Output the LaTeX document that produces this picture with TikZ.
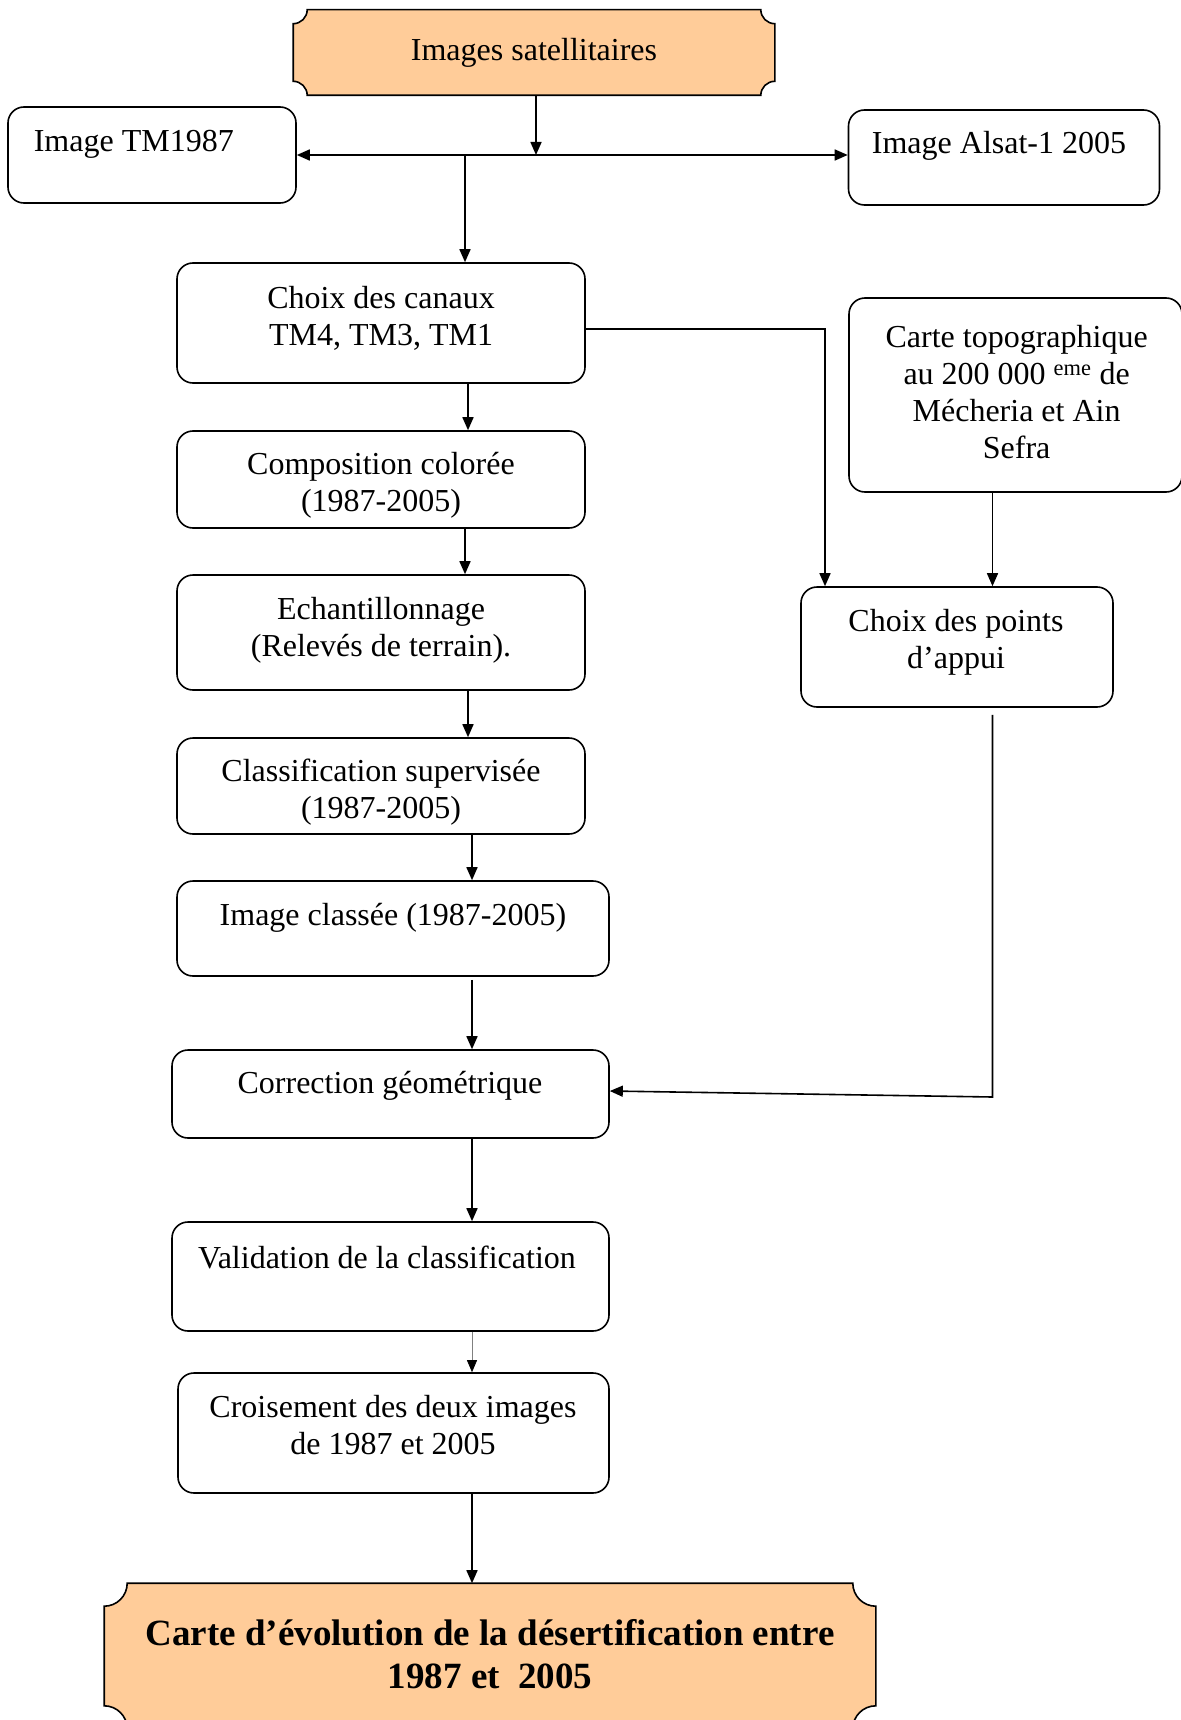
\documentclass[tikz,border=0pt]{standalone}
\usepackage{fontspec}
\setmainfont{Liberation Serif}
\usepackage{xcolor}
\usepackage{tikz}
\usetikzlibrary{arrows.meta, positioning, calc}

\definecolor{orangeclair}{RGB}{255,204,153}

% plaque aux coins creux : #1 = noeud, #2 = rayon
\newcommand{\plaque}[2]{%
  \draw[fill=orangeclair] ($(#1.north west)+(#2,0)$) -- ($(#1.north east)+(-#2,0)$)
    arc[start angle=180, end angle=270, radius=#2] -- ($(#1.south east)+(0,#2)$)
    arc[start angle=90, end angle=180, radius=#2] -- ($(#1.south west)+(#2,0)$)
    arc[start angle=0, end angle=90, radius=#2] -- ($(#1.north west)+(0,-#2)$)
    arc[start angle=270, end angle=360, radius=#2] -- cycle;}

\begin{document}
\begin{tikzpicture}[x=1pt, y=-1pt, line width=1.6pt,
            >={Triangle[length=13pt, width=11pt]},
            boite/.style={draw, rounded corners=16pt, inner sep=0pt},
            vide/.style={inner sep=0pt},
            txt/.style={align=center, inner sep=0pt, font=\fontsize{32}{37}\selectfont},
            titre/.style={align=center, inner sep=0pt, font=\fontsize{37}{43}\selectfont\bfseries}]

            \useasboundingbox (0,0) rectangle (1180,1720);

            % ===== plaques orange =====
            \node[vide, minimum width=480pt, minimum height=84pt] (sat) at (534,52.5) {};
            \plaque{sat}{14pt}
            \node[txt] (sat-t) at (534,52.5) {Images satellitaires};

            \node[vide, minimum width=770pt, minimum height=144pt] (final) at (490,1656) {};
            \plaque{final}{23pt}
            \node[titre] (final-t) at (490,1654) {Carte d’évolution de la désertification entre\\1987 et~ 2005};

            % ===== boites =====
            \node[boite, minimum width=288pt, minimum height=96pt] (tm) at (152,155) {};
            \node[txt, anchor=west] (tm-t) at (33,144) {Image TM1987};
            \node[boite, minimum width=311pt, minimum height=95pt] (alsat) at (1004,157.5) {};
            \node[txt] (alsat-t) at (999,146) {Image Alsat-1 2005};

            \node[boite, minimum width=408pt, minimum height=120pt] (canaux) at (381,323) {};
            \node[txt] (canaux-t) at (381,318) {Choix des canaux\\TM4, TM3, TM1};
            \node[boite, minimum width=408pt, minimum height=97pt] (compo) at (381,479.5) {};
            \node[txt] (compo-t) at (381,485.5) {Composition colorée\\(1987-2005)};
            \node[boite, minimum width=408pt, minimum height=115pt] (echant) at (381,632.5) {};
            \node[txt] (echant-t) at (381,630.5) {Echantillonnage\\(Relevés de terrain).};
            \node[boite, minimum width=408pt, minimum height=96pt] (classif) at (381,786) {};
            \node[txt] (classif-t) at (381,792.5) {Classification supervisée\\(1987-2005)};
            \node[boite, minimum width=432pt, minimum height=95pt] (classee) at (393,928.5) {};
            \node[txt] (classee-t) at (393,918) {Image classée (1987-2005)};
            \node[boite, minimum width=437pt, minimum height=88pt] (corr) at (390.5,1094) {};
            \node[txt] (corr-t) at (390,1086) {Correction géométrique};
            \node[boite, minimum width=437pt, minimum height=109pt] (valid) at (390.5,1276.5) {};
            \node[txt] (valid-t) at (387,1257.5) {Validation de la classification};
            \node[boite, minimum width=431pt, minimum height=120pt] (crois) at (393.5,1433) {};
            \node[txt] (crois-t) at (393,1425) {Croisement des deux images\\de 1987 et 2005};

            \node[boite, minimum width=333pt, minimum height=194pt] (topo) at (1015.5,395) {};
            \node[txt] (topo-t) at (1016.6,392) {Carte topographique\\au 200 000 \textsuperscript{eme} de\\Mécheria et Ain\\Sefra};
            \node[boite, minimum width=312pt, minimum height=120pt] (pts) at (957,647) {};
            \node[txt] (pts-t) at (956,642.5) {Choix des points\\d’appui};

            % ===== reperes =====
            \coordinate (depart) at (465,155);
            \coordinate (axe) at (468,0);
            \coordinate (axe2) at (472,0);
            \coordinate (c1) at (825,329);
            \coordinate (c2) at (992.5,1097);

            % ===== fleches =====
            \draw[->] (sat.south -| 536,0) -- (536,155);
            \draw[<->] (tm.east) -- (tm.east -| alsat.west);
            \draw[->] (depart) -- (depart |- canaux.north);
            \draw[->] (canaux.south -| axe) -- (compo.north -| axe);
            \draw[->] (compo.south -| depart) -- (echant.north -| depart);
            \draw[->] (echant.south -| axe) -- (classif.north -| axe);
            \draw[->] (classif.south -| axe2) -- (classee.north -| axe2);
            \draw[->] ([yshift=-3pt]classee.south -| axe2) -- (corr.north -| axe2);
            \draw[->] (corr.south -| axe2) -- (valid.north -| axe2);
            \draw[-{Triangle[length=12pt, width=10pt, color=black]}, gray, line width=0.8pt]
                (valid.south -| axe2) -- (crois.north -| axe2);
            \draw[->] (crois.south -| axe2) -- (final.north -| axe2);

            \draw[->] (canaux.east |- c1) -| (pts.north -| c1);
            \draw[->] (topo.south -| c2) -- (pts.north -| c2);
            \draw[->] ($(pts.south -| c2)+(0,7)$) -- (c2) -- ([yshift=3pt]corr.east);
        \end{tikzpicture}
\end{document}
